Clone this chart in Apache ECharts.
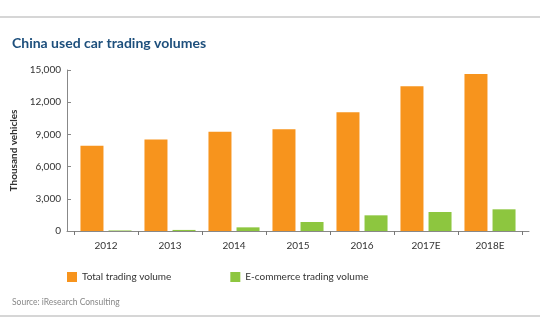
<!DOCTYPE html>
<html><head><meta charset="utf-8">
<script src="https://cdn.jsdelivr.net/npm/echarts@6/dist/echarts.min.js"></script>
<style>html,body{margin:0;padding:0;background:#fff}#c{width:540px;height:334px}</style>
</head><body><div id="c"></div>
<script>
const categories = ['2012','2013','2014','2015','2016','2017E','2018E'];
const totalVolume = [7950, 8520, 9250, 9470, 11060, 13480, 14620];
const ecommerceVolume = [50, 100, 340, 840, 1460, 1770, 2020];
const yTicks = [0, 3000, 6000, 9000, 12000, 15000];
const seriesNames = ['Total trading volume', 'E-commerce trading volume'];

const FONT = 'Lato, "Open Sans", sans-serif';
const chart = echarts.init(document.getElementById('c'), null, {renderer:'canvas'});
chart.setOption({
  animation:false,
  backgroundColor:'#fff',
  title:{text:'China used car trading volumes', left:7, top:31,
    textStyle:{color:'#1d4f7c', fontSize:14, fontWeight:'bold', fontFamily:FONT}},
  legend:{left:62, top:267, itemWidth:10, itemHeight:10, itemGap:59, icon:'rect',
    textStyle:{color:'#333', fontSize:10, fontFamily:FONT},
    data:seriesNames},
  graphic:[
    {type:'line', shape:{x1:0,y1:17,x2:540,y2:17}, style:{stroke:'#c8c8c8', lineWidth:1.5}},
    {type:'line', shape:{x1:0,y1:316,x2:540,y2:316}, style:{stroke:'#c8c8c8', lineWidth:1.5}},
    {type:'text', left:12, top:298, style:{text:'Source: iResearch Consulting', fill:'#888', font:'8.5px '+FONT}}
  ],
  grid:[
    {left:74, right:18, top:70, bottom:103},
    {left:67, right:11, top:70, bottom:103}
  ],
  xAxis:[
    {type:'category', gridIndex:0, data:categories, boundaryGap:true,
      axisLine:{show:false}, axisTick:{show:true, length:4, lineStyle:{color:'#777'}},
      axisLabel:{color:'#333', fontSize:10, fontFamily:FONT, margin:10}},
    {type:'value', gridIndex:1, min:0, max:1, show:true,
      axisLine:{show:true, lineStyle:{color:'#888', width:1}}, axisTick:{show:false}, axisLabel:{show:false}, splitLine:{show:false}}
  ],
  yAxis:[
    {type:'value', gridIndex:0, min:0, max:15000, interval:3000, show:false},
    {type:'value', gridIndex:1, min:0, max:15000, interval:3000,
      name:'Thousand vehicles', nameLocation:'middle', nameGap:36, nameRotate:90,
      nameTextStyle:{color:'#333', fontSize:10, fontWeight:'bold', fontFamily:FONT},
      axisLine:{show:true, lineStyle:{color:'#888'}},
      axisTick:{show:true, inside:true, length:4, lineStyle:{color:'#888'}},
      axisLabel:{color:'#333', fontSize:10, fontFamily:FONT, margin:6,
        formatter:v=>v.toLocaleString('en-US')},
      splitLine:{show:false}}
  ],
  series:[
    {name:seriesNames[0], type:'bar', xAxisIndex:0, yAxisIndex:0, data:totalVolume,
      itemStyle:{color:'#f7941d'}, barWidth:23, barGap:'22%'},
    {name:seriesNames[1], type:'bar', xAxisIndex:0, yAxisIndex:0, data:ecommerceVolume,
      itemStyle:{color:'#8dc63f'}, barWidth:23, barGap:'22%'}
  ]
});
</script></body></html>
